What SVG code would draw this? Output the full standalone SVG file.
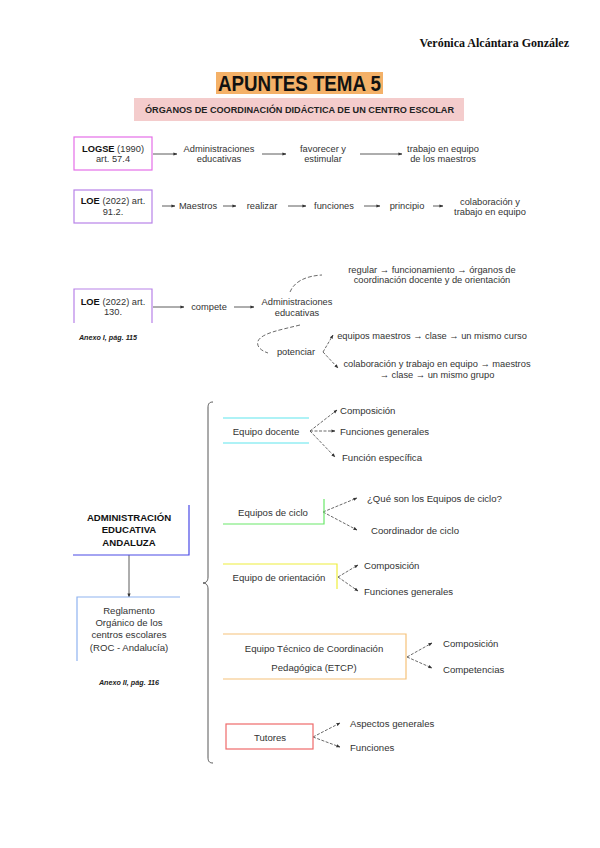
<svg xmlns="http://www.w3.org/2000/svg" width="600" height="848" viewBox="0 0 600 848">
<defs>
<marker id="ah" viewBox="0 0 10 10" refX="9" refY="5" markerWidth="4" markerHeight="4" orient="auto" markerUnits="userSpaceOnUse">
<path d="M0,1 L10,5 L0,9 z" fill="#333"/>
</marker>
</defs>
<style>
text{font-family:"Liberation Sans",Arial,sans-serif;fill:#333;}
.t{font-size:9.3px;}
.m{font-size:9.6px;}
.c{text-anchor:middle;}
.b{font-weight:bold;fill:#111;}
.ax{font-size:7.2px;font-weight:bold;font-style:italic;fill:#222;}
.ln{stroke:#333;stroke-width:0.8;fill:none;marker-end:url(#ah);}
.dl{stroke:#444;stroke-width:0.8;fill:none;stroke-dasharray:3 1.5;marker-end:url(#ah);}
.dc{stroke:#444;stroke-width:0.8;fill:none;stroke-dasharray:4 2;}
</style>
<rect width="600" height="848" fill="#fff"/>

<g id="header">
<text x="569" y="47" text-anchor="end" style="font-family:'Liberation Serif',serif;font-weight:bold;font-size:12px;fill:#111">Verónica Alcántara González</text>
<rect x="216" y="72" width="167" height="22" fill="#f4b168"/>
<text x="299.5" y="90.5" class="c" textLength="163" lengthAdjust="spacingAndGlyphs" style="font-size:22px;font-weight:bold;fill:#111">APUNTES TEMA 5</text>
<rect x="134" y="98" width="330" height="23" fill="#f4cccc"/>
<text x="299.5" y="112.5" class="c" textLength="309" lengthAdjust="spacingAndGlyphs" style="font-size:8.6px;font-weight:bold;fill:#222">ÓRGANOS DE COORDINACIÓN DIDÁCTICA DE UN CENTRO ESCOLAR</text>
</g>

<g id="connectors">
<line class="ln" x1="153" y1="154" x2="177" y2="154"/>
<line class="ln" x1="262" y1="154" x2="286" y2="154"/>
<line class="ln" x1="360" y1="154" x2="402" y2="154"/>
<line class="ln" x1="162" y1="206" x2="175" y2="206"/>
<line class="ln" x1="223" y1="206" x2="236" y2="206"/>
<line class="ln" x1="288" y1="206" x2="306" y2="206"/>
<line class="ln" x1="364" y1="206" x2="380" y2="206"/>
<line class="ln" x1="433" y1="206" x2="443" y2="206"/>
<line class="ln" x1="153" y1="307" x2="184" y2="307"/>
<line class="ln" x1="234" y1="307" x2="254" y2="307"/>
<path class="dc" d="M290,292 C294,282 305,276 322,275"/>
<path class="dc" d="M300,325 C280,330 262,333 258,341 C256,347 262,351 268,353"/>
<path class="dl" d="M323,352 L333,335"/>
<path class="dl" d="M323,352 L338,368"/>
<line class="ln" x1="129" y1="555" x2="129" y2="597"/>
<path d="M213,402 C209,402 208,404 208,408 L208,577 C208,581 206,583 203,583 C206,583 208,585 208,589 L208,757 C208,761 209,763 213,763" fill="none" stroke="#444" stroke-width="0.9"/>
<path class="dl" d="M310,431 L337,410"/>
<path class="dl" d="M310,431 L335,431"/>
<path class="dl" d="M310,431 L335,457"/>
<path class="dl" d="M323,512 L357,498"/>
<path class="dl" d="M323,512 L357,530"/>
<path class="dl" d="M338,577 L358,565"/>
<path class="dl" d="M338,577 L358,591"/>
<path class="dl" d="M407,657 L432,643"/>
<path class="dl" d="M407,657 L432,668"/>
<path class="dl" d="M313,737 L340,723"/>
<path class="dl" d="M313,737 L340,747"/>
</g>

<g id="logse">
<rect x="74" y="137" width="78" height="33" fill="none" stroke="#e56ee8" stroke-width="1.2"/>
<text class="t c" x="113" y="152"><tspan class="b">LOGSE</tspan> (1990)</text>
<text class="t c" x="113" y="162">art. 57.4</text>
</g>
<g id="r1-admin"><text class="t c" x="219" y="152">Administraciones</text><text class="t c" x="219" y="162">educativas</text></g>
<g id="r1-favorecer"><text class="t c" x="323" y="152">favorecer y</text><text class="t c" x="323" y="162">estimular</text></g>
<g id="r1-trabajo"><text class="t c" x="443" y="152">trabajo en equipo</text><text class="t c" x="443" y="162">de los maestros</text></g>

<g id="loe912">
<rect x="74" y="190" width="78" height="33" fill="none" stroke="#b882e8" stroke-width="1.2"/>
<text class="t c" x="113" y="204"><tspan class="b">LOE</tspan> (2022) art.</text>
<text class="t c" x="113" y="215">91.2.</text>
</g>
<g id="r2-maestros"><text class="t c" x="198" y="209">Maestros</text></g>
<g id="r2-realizar"><text class="t c" x="262" y="209">realizar</text></g>
<g id="r2-funciones"><text class="t c" x="334" y="209">funciones</text></g>
<g id="r2-principio"><text class="t c" x="407" y="209">principio</text></g>
<g id="r2-colab"><text class="t c" x="490" y="205">colaboración y</text><text class="t c" x="490" y="215">trabajo en equipo</text></g>

<g id="loe130">
<path d="M74,323 L74,289 L152,289 L152,323" fill="none" stroke="#b882e8" stroke-width="1.2"/>
<text class="t c" x="113" y="305"><tspan class="b">LOE</tspan> (2022) art.</text>
<text class="t c" x="113" y="315">130.</text>
<text class="ax c" x="108" y="339.5">Anexo I, pág. 115</text>
</g>
<g id="r3-compete"><text class="t c" x="209" y="310">compete</text></g>
<g id="r3-admin"><text class="t c" x="297" y="305">Administraciones</text><text class="t c" x="297" y="316">educativas</text></g>
<g id="r3-regular"><text class="t c" x="432" y="273">regular → funcionamiento → órganos de</text><text class="t c" x="432" y="283">coordinación docente y de orientación</text></g>
<g id="r3-potenciar"><text class="t c" x="296" y="355">potenciar</text></g>
<g id="r3-equipos"><text class="t c" x="432" y="339">equipos maestros → clase → un mismo curso</text></g>
<g id="r3-colab"><text class="t c" x="437" y="367">colaboración y trabajo en equipo → maestros</text><text class="t c" x="437" y="378">→ clase → un mismo grupo</text></g>

<g id="admin-andaluza">
<path d="M73,555 L189,555 L189,505" fill="none" stroke="#4a4ae6" stroke-width="1.2"/>
<text class="m c b" x="129" y="520.5">ADMINISTRACIÓN</text>
<text class="m c b" x="129" y="533">EDUCATIVA</text>
<text class="m c b" x="129" y="545.5">ANDALUZA</text>
</g>
<g id="reglamento">
<path d="M77,661 L77,597 L180,597" fill="none" stroke="#8fb3f0" stroke-width="1.2"/>
<text class="m c" x="129" y="613.5">Reglamento</text>
<text class="m c" x="129" y="625.5">Orgánico de los</text>
<text class="m c" x="129" y="638">centros escolares</text>
<text class="m c" x="129" y="650.5">(ROC - Andalucía)</text>
<text class="ax c" x="129" y="685">Anexo II, pág. 116</text>
</g>

<g id="equipo-docente">
<line x1="223" y1="418" x2="309" y2="418" stroke="#5ee6ee" stroke-width="1.2"/>
<line x1="223" y1="443" x2="309" y2="443" stroke="#5ee6ee" stroke-width="1.2"/>
<text class="m c" x="266" y="434.5">Equipo docente</text>
</g>
<g id="ed-1"><text class="m" x="340" y="413.5">Composición</text></g>
<g id="ed-2"><text class="m" x="340" y="434.5">Funciones generales</text></g>
<g id="ed-3"><text class="m" x="342" y="460.5">Función específica</text></g>

<g id="equipos-ciclo">
<path d="M223,524 L324,524 L324,499" fill="none" stroke="#6ae86a" stroke-width="1.2"/>
<text class="m c" x="273" y="515.5">Equipos de ciclo</text>
</g>
<g id="ec-1"><text class="m" x="367" y="501.5">¿Qué son los Equipos de ciclo?</text></g>
<g id="ec-2"><text class="m" x="371" y="533.5">Coordinador de ciclo</text></g>

<g id="equipo-orientacion">
<path d="M223,564 L337,564 L337,589" fill="none" stroke="#eeee3c" stroke-width="1.2"/>
<text class="m c" x="279" y="580.5">Equipo de orientación</text>
</g>
<g id="eo-1"><text class="m" x="364" y="568.5">Composición</text></g>
<g id="eo-2"><text class="m" x="364" y="594.5">Funciones generales</text></g>

<g id="etcp">
<path d="M223,634 L406,634 L406,679 L223,679" fill="none" stroke="#f6c27a" stroke-width="1.2"/>
<text class="m c" x="314" y="651.5">Equipo Técnico de Coordinación</text>
<text class="m c" x="314" y="670.5">Pedagógica (ETCP)</text>
</g>
<g id="etcp-1"><text class="m" x="443" y="646.5">Composición</text></g>
<g id="etcp-2"><text class="m" x="443" y="672.5">Competencias</text></g>

<g id="tutores">
<rect x="226" y="724" width="87" height="25" fill="none" stroke="#ee6a6a" stroke-width="1.2"/>
<text class="m c" x="270" y="740.5">Tutores</text>
</g>
<g id="tu-1"><text class="m" x="350" y="726.5">Aspectos generales</text></g>
<g id="tu-2"><text class="m" x="350" y="750.5">Funciones</text></g>
</svg>
